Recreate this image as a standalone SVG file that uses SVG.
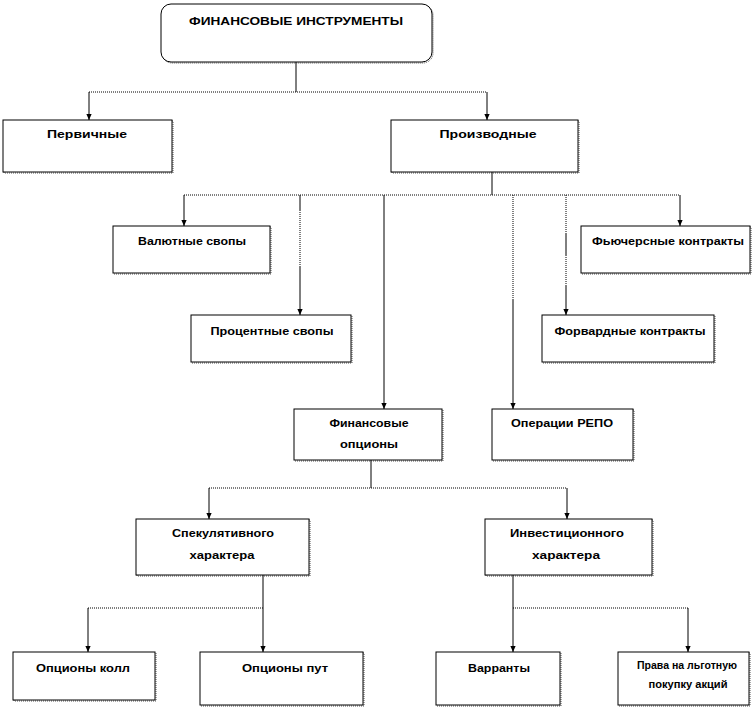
<svg xmlns="http://www.w3.org/2000/svg" width="754" height="709" viewBox="0 0 754 709">
<defs>
<style>
.box{fill:#fff;stroke:#000;stroke-width:1}
.sh{fill:none;stroke:#555;stroke-width:1;stroke-dasharray:1 1}
.t{font-family:"Liberation Sans",Arial,sans-serif;font-weight:bold;font-size:11.5px;fill:#000;text-anchor:middle}
.ts{font-size:10px}
.s{fill:none;stroke:#000;stroke-width:1}
.d{fill:none;stroke:#000;stroke-width:1;stroke-dasharray:1 1}
</style>
<marker id="ar" viewBox="0 0 8 8" refX="8" refY="4" markerWidth="7" markerHeight="6" markerUnits="userSpaceOnUse" orient="auto">
<path d="M0,0.5 L8,4 L0,7.5 z" fill="#000"/>
</marker>
</defs>
<rect width="754" height="709" fill="#fff"/>
<g id="connectors">
<path class="s" d="M296,62 V92"/>
<path class="d" d="M89,92 H487"/>
<path class="s" d="M89,92 V120" marker-end="url(#ar)"/>
<path class="s" d="M487,92 V120" marker-end="url(#ar)"/>
<path class="s" d="M492,172 V195"/>
<path class="d" d="M184,195 H680"/>
<path class="s" d="M184,195 V226" marker-end="url(#ar)"/>
<path class="s" d="M680,195 V226" marker-end="url(#ar)"/>
<path class="s" d="M300,195 V210"/>
<path class="d" d="M300,210 V267"/>
<path class="s" d="M300,267 V315" marker-end="url(#ar)"/>
<path class="s" d="M384,195 V409" marker-end="url(#ar)"/>
<path class="d" d="M513,195 V300"/>
<path class="s" d="M513,300 V409" marker-end="url(#ar)"/>
<path class="d" d="M566,195 V233"/>
<path class="s" d="M566,233 V255"/>
<path class="d" d="M566,255 V285"/>
<path class="s" d="M566,285 V315" marker-end="url(#ar)"/>
<path class="s" d="M371,460 V488"/>
<path class="d" d="M209,488 H567"/>
<path class="s" d="M209,488 V519" marker-end="url(#ar)"/>
<path class="s" d="M567,488 V519" marker-end="url(#ar)"/>
<path class="s" d="M263,575 V652" marker-end="url(#ar)"/>
<path class="d" d="M88,608 H263"/>
<path class="s" d="M88,608 V652" marker-end="url(#ar)"/>
<path class="s" d="M513,575 V652" marker-end="url(#ar)"/>
<path class="d" d="M513,608 H688"/>
<path class="s" d="M688,608 V652" marker-end="url(#ar)"/>
</g>
<g id="n-root">
<rect class="sh" x="162" y="5" width="271" height="58" rx="10"/>
<rect class="box" x="161" y="4" width="271" height="58" rx="10"/>
<text class="t" x="296" y="25" textLength="214" lengthAdjust="spacingAndGlyphs">ФИНАНСОВЫЕ ИНСТРУМЕНТЫ</text>
</g>
<g id="n-perv">
<rect class="sh" x="4" y="121" width="169" height="52"/>
<rect class="box" x="3" y="120" width="169" height="52"/>
<text class="t" x="87" y="138" textLength="80" lengthAdjust="spacingAndGlyphs">Первичные</text>
</g>
<g id="n-proizv">
<rect class="sh" x="392" y="121" width="187" height="52"/>
<rect class="box" x="391" y="120" width="187" height="52"/>
<text class="t" x="488" y="138" textLength="97" lengthAdjust="spacingAndGlyphs">Производные</text>
</g>
<g id="n-valut">
<rect class="sh" x="114" y="227" width="157" height="47"/>
<rect class="box" x="113" y="226" width="157" height="47"/>
<text class="t" x="192" y="245" textLength="108" lengthAdjust="spacingAndGlyphs">Валютные свопы</text>
</g>
<g id="n-fyuch">
<rect class="sh" x="582" y="227" width="169" height="47"/>
<rect class="box" x="581" y="226" width="169" height="47"/>
<text class="t" x="668" y="245" textLength="152" lengthAdjust="spacingAndGlyphs">Фьючерсные контракты</text>
</g>
<g id="n-proc">
<rect class="sh" x="192" y="316" width="160" height="47"/>
<rect class="box" x="191" y="315" width="160" height="47"/>
<text class="t" x="272" y="335" textLength="123" lengthAdjust="spacingAndGlyphs">Процентные свопы</text>
</g>
<g id="n-forw">
<rect class="sh" x="543" y="316" width="172" height="47"/>
<rect class="box" x="542" y="315" width="172" height="47"/>
<text class="t" x="630" y="335" textLength="151" lengthAdjust="spacingAndGlyphs">Форвардные контракты</text>
</g>
<g id="n-finopt">
<rect class="sh" x="295" y="410" width="148" height="51"/>
<rect class="box" x="294" y="409" width="148" height="51"/>
<text class="t" x="369" y="427" textLength="79" lengthAdjust="spacingAndGlyphs">Финансовые</text>
<text class="t" x="369" y="448" textLength="58" lengthAdjust="spacingAndGlyphs">опционы</text>
</g>
<g id="n-repo">
<rect class="sh" x="493" y="410" width="141" height="51"/>
<rect class="box" x="492" y="409" width="141" height="51"/>
<text class="t" x="562" y="427" textLength="102" lengthAdjust="spacingAndGlyphs">Операции РЕПО</text>
</g>
<g id="n-spek">
<rect class="sh" x="137" y="520" width="173" height="56"/>
<rect class="box" x="136" y="519" width="173" height="56"/>
<text class="t" x="223" y="537" textLength="102" lengthAdjust="spacingAndGlyphs">Спекулятивного</text>
<text class="t" x="222" y="559" textLength="65" lengthAdjust="spacingAndGlyphs">характера</text>
</g>
<g id="n-invest">
<rect class="sh" x="486" y="520" width="167" height="56"/>
<rect class="box" x="485" y="519" width="167" height="56"/>
<text class="t" x="567" y="537" textLength="114" lengthAdjust="spacingAndGlyphs">Инвестиционного</text>
<text class="t" x="566" y="559" textLength="68" lengthAdjust="spacingAndGlyphs">характера</text>
</g>
<g id="n-koll">
<rect class="sh" x="14" y="653" width="142" height="48"/>
<rect class="box" x="13" y="652" width="142" height="48"/>
<text class="t" x="83" y="672" textLength="94" lengthAdjust="spacingAndGlyphs">Опционы колл</text>
</g>
<g id="n-put">
<rect class="sh" x="201" y="653" width="163" height="53"/>
<rect class="box" x="200" y="652" width="163" height="53"/>
<text class="t" x="285" y="672" textLength="86" lengthAdjust="spacingAndGlyphs">Опционы пут</text>
</g>
<g id="n-varr">
<rect class="sh" x="437" y="653" width="124" height="53"/>
<rect class="box" x="436" y="652" width="124" height="53"/>
<text class="t" x="499" y="672" textLength="62" lengthAdjust="spacingAndGlyphs">Варранты</text>
</g>
<g id="n-prava">
<rect class="sh" x="619" y="653" width="131" height="53"/>
<rect class="box" x="618" y="652" width="131" height="53"/>
<text class="t ts" x="687" y="669" textLength="100" lengthAdjust="spacingAndGlyphs">Права на льготную</text>
<text class="t ts" x="688" y="688" textLength="79" lengthAdjust="spacingAndGlyphs">покупку акций</text>
</g>
</svg>
